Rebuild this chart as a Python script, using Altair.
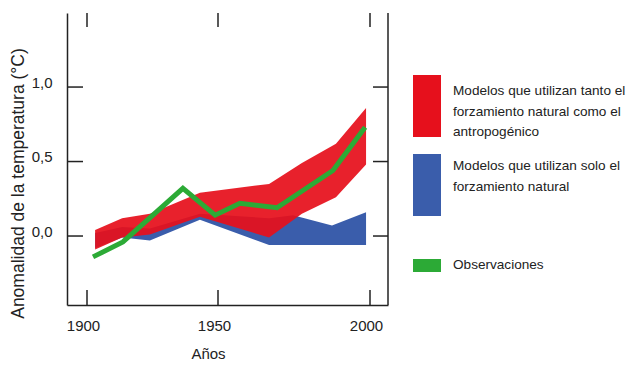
import altair as alt
import pandas as pd

# ---------------- data ----------------
# Observations (green line)
obs_years = [1902.3, 1913.7, 1936.6, 1948.9, 1957.2, 1969.4, 1987.8, 1998.4]
obs_values = [-0.14, -0.04, 0.32, 0.14, 0.22, 0.19, 0.44, 0.73]

# Models with natural + anthropogenic forcing (red band)
anth_years = [1903.1, 1913.4, 1924.0, 1943.1, 1966.8, 1977.6, 1988.8, 1998.7]
anth_upper = [0.04, 0.12, 0.15, 0.29, 0.35, 0.49, 0.62, 0.86]
anth_lower = [-0.09, -0.01, 0.01, 0.13, -0.01, 0.15, 0.26, 0.48]

# Models with natural forcing only (blue band)
nat_years = [1903.1, 1913.4, 1924.0, 1943.1, 1966.8, 1974.7, 1987.5, 1998.7]
nat_upper = [0.02, 0.06, 0.05, 0.15, 0.12, 0.14, 0.07, 0.16]
nat_lower = [-0.08, -0.01, -0.03, 0.11, -0.06, -0.06, -0.06, -0.06]

x_ticks = [1900, 1950, 2000]
y_ticks = [0.0, 0.5, 1.0]

legend_labels = [
    ["Modelos que utilizan tanto el", "forzamiento natural como el", "antropogénico"],
    ["Modelos que utilizan solo el", "forzamiento natural"],
    ["Observaciones"],
]

# ---------------- styling / layout ----------------
RED = "#e6101c"
BLUE = "#3a5dab"
GREEN = "#2caa36"
INK = "#222222"
FONT = "Liberation Sans"
W, H = 321, 292

red_df = pd.DataFrame({"year": anth_years, "value": anth_upper, "value2": anth_lower})
blue_df = pd.DataFrame({"year": nat_years, "value": nat_upper, "value2": nat_lower})
obs_df = pd.DataFrame({"year": obs_years, "value": obs_values})
xt_df = pd.DataFrame({"year": x_ticks})
yt_df = pd.DataFrame({"value": y_ticks})
one = pd.DataFrame({"k": [0]})

x_scale = alt.Scale(domain=[1892.4, 1900, 1950, 2000, 2005.9],
                    range=[0, 20, 151, 303, W], nice=False, zero=False)
y_scale = alt.Scale(domain=[-0.463, 1.497], nice=False, zero=False)

x_axis = alt.Axis(values=x_ticks, format="d", ticks=False, tickSize=0, grid=False,
                  domainColor=INK, domainWidth=1.5, labelPadding=13, labelOffset=-4,
                  labelFlush=False, labelFontSize=15, labelColor=INK, labelFont=FONT,
                  title="Años", titleX=141, titleY=53, titleAlign="center",
                  titleBaseline="alphabetic", titleFontSize=15, titleFontWeight="normal",
                  titleColor=INK, titleFont=FONT)
y_axis = alt.Axis(values=y_ticks, labelExpr="replace(format(datum.value, '.1f'), '.', ',')",
                  ticks=False, tickSize=0, grid=False, domainColor=INK, domainWidth=1.5,
                  labelPadding=15, labelOffset=-5, labelFontSize=15, labelColor=INK,
                  labelFont=FONT, title="Anomalidad de la temperatura (°C)",
                  titleX=-49, titleY=170, titleAngle=270, titleAlign="center",
                  titleBaseline="middle", titleFontSize=17.5, titleFontWeight="normal",
                  titleColor=INK, titleFont=FONT)


def X(field="year"):
    return alt.X(f"{field}:Q", scale=x_scale, axis=x_axis)


def Y(field="value"):
    return alt.Y(f"{field}:Q", scale=y_scale, axis=y_axis)


blue = alt.Chart(blue_df).mark_area(color=BLUE, opacity=1).encode(
    x=X(), y=Y(), y2="value2:Q")
red = alt.Chart(red_df).mark_area(color=RED, opacity=0.93).encode(
    x=X(), y=Y(), y2="value2:Q")
line = alt.Chart(obs_df).mark_line(color=GREEN, strokeWidth=5).encode(x=X(), y=Y())

tick_style = dict(color=INK, strokeWidth=1.5)
bottom_ticks = alt.Chart(xt_df).mark_rule(**tick_style).encode(
    x=X(), y=alt.value(H - 15), y2=alt.value(H))
top_ticks = alt.Chart(xt_df).mark_rule(**tick_style).encode(
    x=X(), y=alt.value(0), y2=alt.value(14))
left_ticks = alt.Chart(yt_df).mark_rule(**tick_style).encode(
    y=Y(), x=alt.value(0), x2=alt.value(16))
right_ticks = alt.Chart(yt_df).mark_rule(**tick_style).encode(
    y=Y(), x=alt.value(W - 15), x2=alt.value(W))
right_frame = alt.Chart(one).mark_rule(**tick_style).encode(
    x=alt.value(W), y=alt.value(0), y2=alt.value(H))

# custom legend (layout positions in plot pixel coordinates)
legend_colors = [RED, BLUE, GREEN]
swatch_boxes = [(62, 124), (141, 203), (246, 259)]
line_centers = [[78, 99, 119], [153, 174], [252]]
legend_layers = []
for color, (y0, y1), labels, centers in zip(legend_colors, swatch_boxes, legend_labels, line_centers):
    legend_layers.append(
        alt.Chart(one).mark_rect(color=color).encode(
            x=alt.value(346), x2=alt.value(374), y=alt.value(y0), y2=alt.value(y1)))
    for txt, yc in zip(labels, centers):
        legend_layers.append(
            alt.Chart(one).mark_text(align="left", baseline="middle", fontSize=13.6,
                                     font=FONT, color=INK).encode(
                x=alt.value(386), y=alt.value(yc), text=alt.value(txt)))

chart = alt.layer(
    blue, red, line, bottom_ticks, top_ticks, left_ticks, right_ticks, right_frame,
    *legend_layers
).properties(
    width=W, height=H,
    autosize=alt.AutoSizeParams(type="none"),
    padding={"left": 59, "top": 5, "right": 238, "bottom": 59},
    background="white",
).configure_view(stroke=None)

chart.save("out.html", embed_options={"renderer": "svg", "actions": False})
